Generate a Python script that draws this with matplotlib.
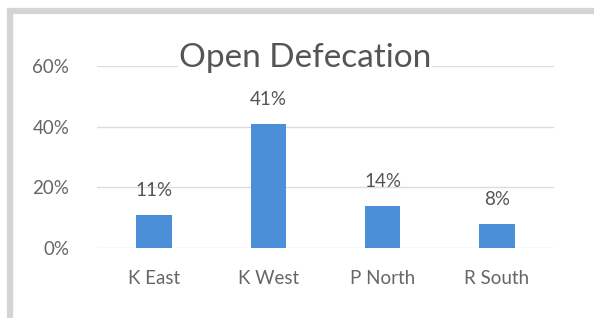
import matplotlib.pyplot as plt
from matplotlib.patches import Rectangle
from matplotlib.ticker import PercentFormatter

categories = ['K East', 'K West', 'P North', 'R South']
values = [11, 41, 14, 8]
value_labels = ['11%', '41%', '14%', '8%']
yticks = [0, 20, 40, 60]

plt.rcParams['font.family'] = ['Lato', 'DejaVu Sans']

fig = plt.figure(figsize=(5.94, 3.18), dpi=100)
fig.patch.set_facecolor('white')

# light gray frame around the chart area
fig.patches.append(Rectangle((9.5 / 594, -0.05), 1.2, 1.0 - 10.5 / 318 + 0.05,
                             transform=fig.transFigure, fill=False,
                             edgecolor='#d4d4d4', linewidth=4.5))

ax = fig.add_axes([97 / 594, 1 - 248 / 318, (554 - 97) / 594, (248 - 66) / 318])
x = range(len(categories))
ax.bar(x, values, width=0.31, color='#4a8fd8', zorder=3)
ax.set_xlim(-0.5, len(categories) - 0.5)
ax.set_ylim(0, 60)
ax.set_yticks(yticks)
ax.yaxis.set_major_formatter(PercentFormatter(decimals=0))
ax.set_xticks(list(x))
ax.set_xticklabels(categories)
ax.grid(axis='y', color='#dcdcdc', linewidth=1, zorder=0)
for s in ax.spines.values():
    s.set_visible(False)
ax.tick_params(axis='both', length=0, colors='#666666', labelsize=13.5)
ax.tick_params(axis='y', pad=20)
ax.tick_params(axis='x', pad=16)

for i, (v, lab) in enumerate(zip(values, value_labels)):
    ax.annotate(lab, (i, v), xytext=(0, 11), textcoords='offset points',
                ha='center', va='bottom', fontsize=13.5, color='#555555')

fig.text(305 / 594, 1 - 67 / 318, 'Open Defecation', ha='center', va='baseline',
         fontsize=24, color='#555555',
         bbox=dict(facecolor='white', edgecolor='none', pad=1))

fig.savefig('out.png', dpi=100)
